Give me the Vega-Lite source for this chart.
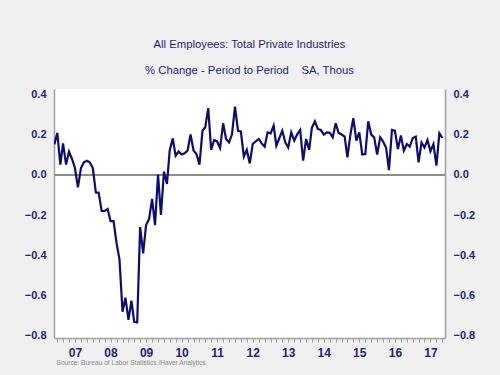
{
  "$schema": "https://vega.github.io/schema/vega-lite/v6.json",
  "autosize": {"type": "none"},
  "width": 391,
  "height": 249,
  "padding": {"left": 54, "top": 89, "right": 55, "bottom": 37},
  "background": "#f0f0f0",
  "view": {"stroke": null, "fill": "white"},
  "title": {
    "text": ["All Employees: Total Private Industries", "% Change - Period to Period\u00a0\u00a0\u00a0\u00a0SA, Thous"],
    "anchor": "middle",
    "frame": "group",
    "font": "Liberation Sans",
    "fontSize": 11.3,
    "fontWeight": "normal",
    "color": "#1f1f7a",
    "lineHeight": 26,
    "offset": 12
  },
  "data": {"values": [
    {"date": "2006-12-01", "value": 0.15},
    {"date": "2007-01-01", "value": 0.207},
    {"date": "2007-02-01", "value": 0.05},
    {"date": "2007-03-01", "value": 0.155},
    {"date": "2007-04-01", "value": 0.05},
    {"date": "2007-05-01", "value": 0.114},
    {"date": "2007-06-01", "value": 0.078},
    {"date": "2007-07-01", "value": 0.033},
    {"date": "2007-08-01", "value": -0.063},
    {"date": "2007-09-01", "value": 0.033},
    {"date": "2007-10-01", "value": 0.061},
    {"date": "2007-11-01", "value": 0.069},
    {"date": "2007-12-01", "value": 0.061},
    {"date": "2008-01-01", "value": 0.033},
    {"date": "2008-02-01", "value": -0.088},
    {"date": "2008-03-01", "value": -0.09},
    {"date": "2008-04-01", "value": -0.18},
    {"date": "2008-05-01", "value": -0.18},
    {"date": "2008-06-01", "value": -0.17},
    {"date": "2008-07-01", "value": -0.23},
    {"date": "2008-08-01", "value": -0.23},
    {"date": "2008-09-01", "value": -0.34},
    {"date": "2008-10-01", "value": -0.42},
    {"date": "2008-11-01", "value": -0.68},
    {"date": "2008-12-01", "value": -0.61},
    {"date": "2009-01-01", "value": -0.72},
    {"date": "2009-02-01", "value": -0.625},
    {"date": "2009-03-01", "value": -0.73},
    {"date": "2009-04-01", "value": -0.733},
    {"date": "2009-05-01", "value": -0.26},
    {"date": "2009-06-01", "value": -0.39},
    {"date": "2009-07-01", "value": -0.25},
    {"date": "2009-08-01", "value": -0.22},
    {"date": "2009-09-01", "value": -0.12},
    {"date": "2009-10-01", "value": -0.25},
    {"date": "2009-11-01", "value": 0.0},
    {"date": "2009-12-01", "value": -0.2},
    {"date": "2010-01-01", "value": 0.016},
    {"date": "2010-02-01", "value": -0.046},
    {"date": "2010-03-01", "value": 0.12},
    {"date": "2010-04-01", "value": 0.18},
    {"date": "2010-05-01", "value": 0.094},
    {"date": "2010-06-01", "value": 0.115},
    {"date": "2010-07-01", "value": 0.1},
    {"date": "2010-08-01", "value": 0.106},
    {"date": "2010-09-01", "value": 0.12},
    {"date": "2010-10-01", "value": 0.2},
    {"date": "2010-11-01", "value": 0.12},
    {"date": "2010-12-01", "value": 0.103},
    {"date": "2011-01-01", "value": 0.05},
    {"date": "2011-02-01", "value": 0.218},
    {"date": "2011-03-01", "value": 0.235},
    {"date": "2011-04-01", "value": 0.33},
    {"date": "2011-05-01", "value": 0.123},
    {"date": "2011-06-01", "value": 0.172},
    {"date": "2011-07-01", "value": 0.165},
    {"date": "2011-08-01", "value": 0.132},
    {"date": "2011-09-01", "value": 0.255},
    {"date": "2011-10-01", "value": 0.177},
    {"date": "2011-11-01", "value": 0.16},
    {"date": "2011-12-01", "value": 0.2},
    {"date": "2012-01-01", "value": 0.337},
    {"date": "2012-02-01", "value": 0.218},
    {"date": "2012-03-01", "value": 0.215},
    {"date": "2012-04-01", "value": 0.09},
    {"date": "2012-05-01", "value": 0.123},
    {"date": "2012-06-01", "value": 0.056},
    {"date": "2012-07-01", "value": 0.152},
    {"date": "2012-08-01", "value": 0.165},
    {"date": "2012-09-01", "value": 0.177},
    {"date": "2012-10-01", "value": 0.155},
    {"date": "2012-11-01", "value": 0.139},
    {"date": "2012-12-01", "value": 0.21},
    {"date": "2013-01-01", "value": 0.205},
    {"date": "2013-02-01", "value": 0.243},
    {"date": "2013-03-01", "value": 0.144},
    {"date": "2013-04-01", "value": 0.182},
    {"date": "2013-05-01", "value": 0.218},
    {"date": "2013-06-01", "value": 0.16},
    {"date": "2013-07-01", "value": 0.135},
    {"date": "2013-08-01", "value": 0.21},
    {"date": "2013-09-01", "value": 0.169},
    {"date": "2013-10-01", "value": 0.2},
    {"date": "2013-11-01", "value": 0.222},
    {"date": "2013-12-01", "value": 0.07},
    {"date": "2014-01-01", "value": 0.177},
    {"date": "2014-02-01", "value": 0.123},
    {"date": "2014-03-01", "value": 0.232},
    {"date": "2014-04-01", "value": 0.265},
    {"date": "2014-05-01", "value": 0.227},
    {"date": "2014-06-01", "value": 0.222},
    {"date": "2014-07-01", "value": 0.199},
    {"date": "2014-08-01", "value": 0.21},
    {"date": "2014-09-01", "value": 0.208},
    {"date": "2014-10-01", "value": 0.185},
    {"date": "2014-11-01", "value": 0.255},
    {"date": "2014-12-01", "value": 0.207},
    {"date": "2015-01-01", "value": 0.199},
    {"date": "2015-02-01", "value": 0.189},
    {"date": "2015-03-01", "value": 0.086},
    {"date": "2015-04-01", "value": 0.2},
    {"date": "2015-05-01", "value": 0.28},
    {"date": "2015-06-01", "value": 0.169},
    {"date": "2015-07-01", "value": 0.21},
    {"date": "2015-08-01", "value": 0.1},
    {"date": "2015-09-01", "value": 0.102},
    {"date": "2015-10-01", "value": 0.265},
    {"date": "2015-11-01", "value": 0.199},
    {"date": "2015-12-01", "value": 0.185},
    {"date": "2016-01-01", "value": 0.1},
    {"date": "2016-02-01", "value": 0.185},
    {"date": "2016-03-01", "value": 0.165},
    {"date": "2016-04-01", "value": 0.135},
    {"date": "2016-05-01", "value": 0.023},
    {"date": "2016-06-01", "value": 0.222},
    {"date": "2016-07-01", "value": 0.218},
    {"date": "2016-08-01", "value": 0.127},
    {"date": "2016-09-01", "value": 0.194},
    {"date": "2016-10-01", "value": 0.119},
    {"date": "2016-11-01", "value": 0.152},
    {"date": "2016-12-01", "value": 0.139},
    {"date": "2017-01-01", "value": 0.182},
    {"date": "2017-02-01", "value": 0.189},
    {"date": "2017-03-01", "value": 0.061},
    {"date": "2017-04-01", "value": 0.16},
    {"date": "2017-05-01", "value": 0.135},
    {"date": "2017-06-01", "value": 0.172},
    {"date": "2017-07-01", "value": 0.116},
    {"date": "2017-08-01", "value": 0.152},
    {"date": "2017-09-01", "value": 0.045},
    {"date": "2017-10-01", "value": 0.205},
    {"date": "2017-11-01", "value": 0.182}
  ]},
  "layer": [
    {
      "mark": {"type": "rule", "color": "#8c8c8c", "strokeWidth": 1.5},
      "encoding": {
        "y": {
          "datum": 0,
          "type": "quantitative",
          "scale": {"domain": [-0.81, 0.425], "nice": false, "zero": false},
          "axis": {
            "orient": "right",
            "values": [-0.8, -0.6, -0.4, -0.2, 0, 0.2, 0.4],
            "format": ".1f",
            "grid": false,
            "ticks": false,
            "domainColor": "#a0a0a0",
            "domainWidth": 1.5,
            "labelFont": "Liberation Sans",
            "labelFontSize": 11,
            "labelFontWeight": "bold",
            "labelColor": "#1f1f7a",
            "labelPadding": 8,
            "title": null
          }
        }
      }
    },
    {
      "mark": {"type": "line", "color": "#0d0d6b", "strokeWidth": 2.2, "clip": true},
      "encoding": {
        "x": {
          "field": "date",
          "type": "temporal",
          "scale": {"type": "utc", "domain": [{"year": 2006, "month": 11, "date": 28, "utc": true}, {"year": 2017, "month": 11, "date": 28, "utc": true}], "nice": false},
          "axis": {
            "tickCount": {"interval": "month", "step": 2},
            "labelExpr": "utcmonth(datum.value) == 6 ? utcFormat(datum.value, '%y') : ''",
            "labelOverlap": false,
            "labelFlush": false,
            "grid": false,
            "ticks": true,
            "tickSize": 4,
            "tickColor": "#a0a0a0",
            "domainColor": "#a0a0a0",
            "domainWidth": 1.5,
            "labelFont": "Liberation Sans",
            "labelFontSize": 12,
            "labelFontWeight": "bold",
            "labelColor": "#1f1f7a",
            "labelPadding": 5,
            "title": "Source:  Bureau of Labor Statistics /Haver Analytics",
            "titleFont": "Liberation Sans",
            "titleFontSize": 6.6,
            "titleFontWeight": "normal",
            "titleColor": "#8a8a8a",
            "titleAnchor": "start",
            "titleAlign": "left",
            "titleBaseline": "middle",
            "titleX": 2,
            "titleY": 24
          }
        },
        "y": {
          "field": "value",
          "type": "quantitative",
          "axis": {
            "orient": "left",
            "values": [-0.8, -0.6, -0.4, -0.2, 0, 0.2, 0.4],
            "format": ".1f",
            "grid": false,
            "ticks": false,
            "domainColor": "#a0a0a0",
            "domainWidth": 1.5,
            "labelFont": "Liberation Sans",
            "labelFontSize": 11,
            "labelFontWeight": "bold",
            "labelColor": "#1f1f7a",
            "labelPadding": 8,
            "title": null
          }
        }
      }
    }
  ],
  "resolve": {"axis": {"y": "independent"}}
}
